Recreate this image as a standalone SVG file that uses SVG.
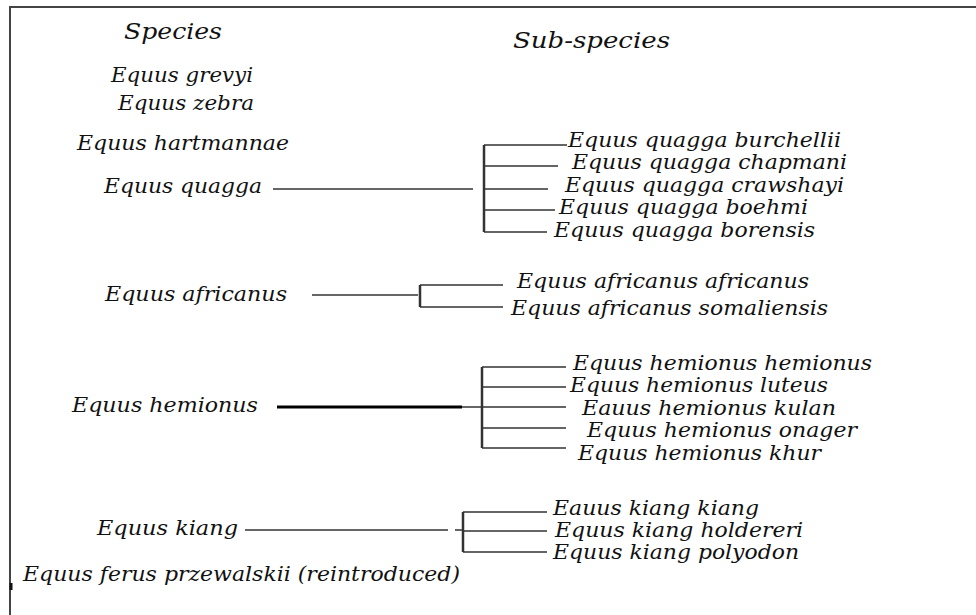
<svg xmlns="http://www.w3.org/2000/svg" width="976" height="615" viewBox="0 0 976 615">
<style>
text{font-family:"DejaVu Serif","Liberation Serif",serif;font-style:italic;font-size:20px;fill:#111}
.h{font-size:22px}
.c{stroke:#333;stroke-width:1.5;fill:none}
.v{stroke:#333;stroke-width:2.5;fill:none}
.frame{stroke:#444;stroke-width:2;fill:none}
</style>
<rect width="976" height="615" fill="#fff"/>
<path class="frame" d="M10 615 V7 H976"/>
<path d="M11 583 V590" stroke="#111" stroke-width="3"/>
<g id="headers">
<text class="h" x="124" y="39" textLength="98" lengthAdjust="spacingAndGlyphs">Species</text>
<text class="h" x="513" y="48" textLength="157" lengthAdjust="spacingAndGlyphs">Sub-species</text>
</g>
<g id="species">
<g id="n-grevyi"><text x="111" y="82" textLength="142" lengthAdjust="spacingAndGlyphs">Equus grevyi</text></g>
<g id="n-zebra"><text x="118" y="110" textLength="136" lengthAdjust="spacingAndGlyphs">Equus zebra</text></g>
<g id="n-hartmannae"><text x="77" y="150" textLength="212" lengthAdjust="spacingAndGlyphs">Equus hartmannae</text></g>
<g id="n-quagga"><text x="104" y="193" textLength="158" lengthAdjust="spacingAndGlyphs">Equus quagga</text></g>
<g id="n-africanus"><text x="105" y="301" textLength="182" lengthAdjust="spacingAndGlyphs">Equus africanus</text></g>
<g id="n-hemionus"><text x="72" y="412" textLength="186" lengthAdjust="spacingAndGlyphs">Equus hemionus</text></g>
<g id="n-kiang"><text x="97" y="535" textLength="141" lengthAdjust="spacingAndGlyphs">Equus kiang</text></g>
<g id="n-przewalskii"><text x="23" y="581" textLength="437" lengthAdjust="spacingAndGlyphs">Equus ferus przewalskii (reintroduced)</text></g>
</g>
<g id="subspecies">
<g id="n-burchellii"><text x="568" y="147" textLength="273" lengthAdjust="spacingAndGlyphs">Equus quagga burchellii</text></g>
<g id="n-chapmani"><text x="572" y="169" textLength="275" lengthAdjust="spacingAndGlyphs">Equus quagga chapmani</text></g>
<g id="n-crawshayi"><text x="565" y="192" textLength="279" lengthAdjust="spacingAndGlyphs">Equus quagga crawshayi</text></g>
<g id="n-boehmi"><text x="559" y="214" textLength="249" lengthAdjust="spacingAndGlyphs">Equus quagga boehmi</text></g>
<g id="n-borensis"><text x="554" y="237" textLength="261" lengthAdjust="spacingAndGlyphs">Equus quagga borensis</text></g>
<g id="n-afr-afr"><text x="517" y="288" textLength="292" lengthAdjust="spacingAndGlyphs">Equus africanus africanus</text></g>
<g id="n-afr-som"><text x="511" y="315" textLength="317" lengthAdjust="spacingAndGlyphs">Equus africanus somaliensis</text></g>
<g id="n-hem-hem"><text x="573" y="370" textLength="299" lengthAdjust="spacingAndGlyphs">Equus hemionus hemionus</text></g>
<g id="n-hem-lut"><text x="570" y="392" textLength="258" lengthAdjust="spacingAndGlyphs">Equus hemionus luteus</text></g>
<g id="n-hem-kul"><text x="582" y="415" textLength="254" lengthAdjust="spacingAndGlyphs">Eauus hemionus kulan</text></g>
<g id="n-hem-ona"><text x="587" y="437" textLength="270" lengthAdjust="spacingAndGlyphs">Equus hemionus onager</text></g>
<g id="n-hem-khu"><text x="578" y="460" textLength="243" lengthAdjust="spacingAndGlyphs">Equus hemionus khur</text></g>
<g id="n-kia-kia"><text x="553" y="515" textLength="206" lengthAdjust="spacingAndGlyphs">Eauus kiang kiang</text></g>
<g id="n-kia-hol"><text x="555" y="537" textLength="248" lengthAdjust="spacingAndGlyphs">Equus kiang holdereri</text></g>
<g id="n-kia-pol"><text x="553" y="559" textLength="246" lengthAdjust="spacingAndGlyphs">Equus kiang polyodon</text></g>
</g>
<g id="connectors">
<path class="c" d="M273 189 H473"/>
<path class="v" d="M484 145 V232"/>
<path class="c" d="M484 145 H567 M484 166 H558 M484 189 H548 M484 210 H555 M484 232 H547"/>
<path class="c" d="M312 295 H418"/>
<path class="v" d="M420 285 V307"/>
<path class="c" d="M420 285 H503 M420 307 H503"/>
<path d="M277 407 H462" stroke="#000" stroke-width="3" fill="none"/>
<path class="c" d="M462 407 H482"/>
<path class="v" d="M482 367 V448"/>
<path class="c" d="M482 367 H566 M482 387 H566 M482 407 H566 M482 428 H566 M482 448 H566"/>
<path class="c" d="M245 530 H448 M455 530 H463"/>
<path class="v" d="M463 512 V552"/>
<path class="c" d="M463 512 H547 M463 531 H547 M463 552 H547"/>
</g>
</svg>
